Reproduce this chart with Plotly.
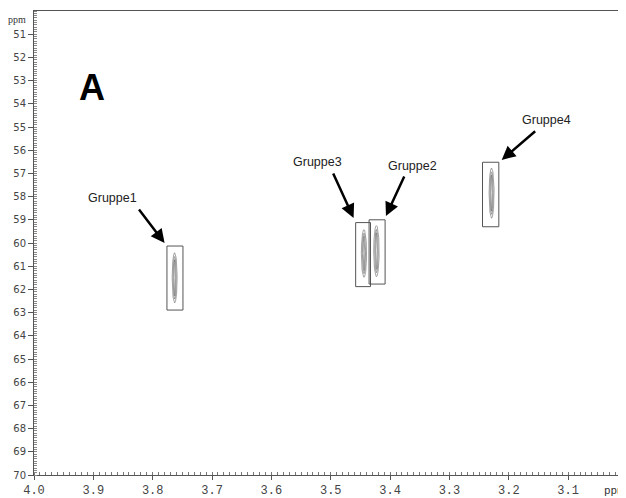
import numpy as np
import plotly.graph_objects as go

# ---- data ----
group_names = ["Gruppe1", "Gruppe2", "Gruppe3", "Gruppe4"]
peak_x = [3.763, 3.423, 3.444, 3.229]          # 1H shift (ppm)
peak_y = [61.50, 60.35, 60.45, 57.85]          # 13C shift (ppm)
peak_hw_x = [0.0042, 0.0046, 0.0044, 0.0042]   # half width (ppm)
peak_hw_y = [1.08, 1.10, 1.03, 1.08]
box_x0 = [3.776, 3.4354, 3.458, 3.2443]
box_x1 = [3.749, 3.4084, 3.433, 3.2168]
box_y0 = [60.13, 59.00, 59.12, 56.52]
box_y1 = [62.89, 61.77, 61.88, 59.30]
contour_levels = [1.0, 0.62, 0.3]

x_tick_vals = [4.0, 3.9, 3.8, 3.7, 3.6, 3.5, 3.4, 3.3, 3.2, 3.1]
x_tick_text = ["4.0", "3.9", "3.8", "3.7", "3.6", "3.5", "3.4", "3.3", "3.2", "3.1"]
y_tick_vals = list(range(51, 71))
y_tick_text = [str(v) for v in y_tick_vals]

# label / arrow placement (text position, arrow tail, arrow tip)
label_pos = [(3.867, 58.06), (3.363, 56.68), (3.522, 56.51), (3.136, 54.70)]
arrow_tail = [(3.825, 58.49), (3.375, 57.07), (3.497, 56.94), (3.153, 55.13)]
arrow_tip = [(3.780, 60.00), (3.407, 58.84), (3.4615, 58.92), (3.212, 56.42)]

fig = go.Figure()

t = np.linspace(0, 2 * np.pi, 120)
for i in range(len(group_names)):
    for lv in contour_levels:
        fig.add_trace(go.Scatter(
            x=peak_x[i] + peak_hw_x[i] * lv * np.cos(t),
            y=peak_y[i] + peak_hw_y[i] * (0.6 + 0.4 * lv) * np.sin(t),
            mode="lines", line=dict(color="#666666", width=0.6),
            hoverinfo="skip", showlegend=False))

for i in range(len(group_names)):
    fig.add_shape(type="rect", xref="x", yref="y",
                  x0=box_x0[i], x1=box_x1[i], y0=box_y0[i], y1=box_y1[i],
                  line=dict(color="#555555", width=1), fillcolor="rgba(0,0,0,0)")
    fig.add_annotation(x=label_pos[i][0], y=label_pos[i][1], text=group_names[i],
                       showarrow=False, font=dict(family="Liberation Sans, Arial", size=12.5, color="#222222"))
    fig.add_annotation(x=arrow_tip[i][0], y=arrow_tip[i][1],
                       ax=arrow_tail[i][0], ay=arrow_tail[i][1],
                       axref="x", ayref="y", text="", showarrow=True,
                       arrowhead=2, arrowsize=1.1, arrowwidth=2.5, arrowcolor="#000000")

fig.add_annotation(xref="paper", yref="paper", x=0.0726, y=0.8836, text="<b>A</b>",
                   showarrow=False, font=dict(family="Liberation Sans, Arial", size=36, color="#000000"))
fig.add_annotation(xref="paper", yref="paper", x=-0.010, y=0.998, text="ppm",
                   xanchor="right", yanchor="top", showarrow=False,
                   font=dict(family="Liberation Serif, serif", size=10, color="#333333"))
fig.add_annotation(xref="paper", yref="paper", x=1.0, y=-0.017, text="ppm",
                   xanchor="right", yanchor="top", showarrow=False,
                   font=dict(family="Liberation Mono, monospace", size=11, color="#333333"))

fig.update_xaxes(range=[4.0, 3.0025], tickvals=x_tick_vals, ticktext=x_tick_text,
                 ticks="outside", ticklen=4, tickcolor="#555555", automargin=False,
                 showline=True, linecolor="#555555", linewidth=1, mirror=True,
                 showgrid=False, zeroline=False,
                 tickfont=dict(family="Liberation Mono", size=12, color="#444444"),
                 minor=dict(dtick=0.01, tick0=4.0, ticks="inside", ticklen=3, tickcolor="#777777", showgrid=False))
fig.update_yaxes(range=[70, 50], tickvals=y_tick_vals, ticktext=y_tick_text,
                 ticks="outside", ticklen=5, tickcolor="#555555", automargin=False,
                 showline=True, linecolor="#555555", linewidth=1,
                 showgrid=False, zeroline=False,
                 tickfont=dict(family="DejaVu Sans, sans-serif", size=10, color="#444444"),
                 minor=dict(dtick=0.1, tick0=50, ticks="inside", ticklen=3, tickcolor="#888888", showgrid=False))

# the page body has an 8px margin, so the figure is sized/offset to compensate
fig.update_layout(width=618, height=489,
                  margin=dict(l=26, r=0, t=3, b=22, autoexpand=False),
                  paper_bgcolor="white", plot_bgcolor="white", showlegend=False)

fig.write_html("out.html")
